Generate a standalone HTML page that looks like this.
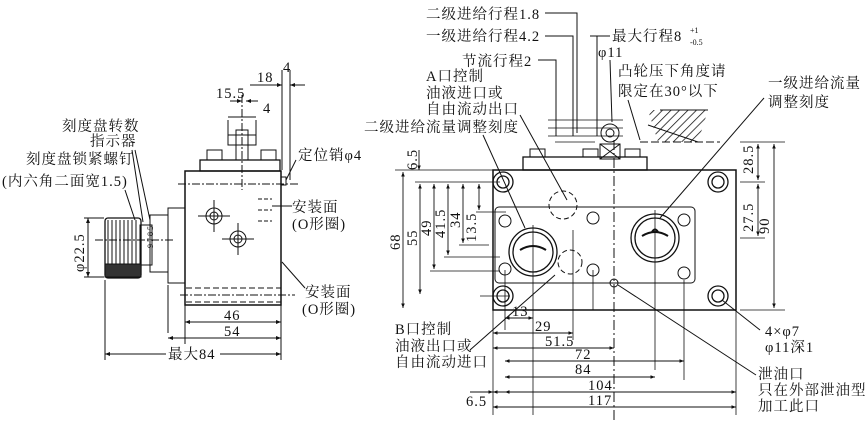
<!DOCTYPE html>
<html><head><meta charset="utf-8"><style>
html,body{margin:0;padding:0;background:#fff}
svg{display:block}
text{font-family:"Liberation Serif","Noto Serif CJK SC","Noto Sans CJK SC",serif;font-size:14.5px;letter-spacing:1px;fill:#111;stroke:none}
</style></head><body>
<svg width="865" height="424" viewBox="0 0 865 424" xmlns="http://www.w3.org/2000/svg" stroke="#111" fill="none" stroke-width="1">
<defs>
<marker id="a" viewBox="0 0 10 10" refX="10" refY="5" markerWidth="7" markerHeight="5" orient="auto-start-reverse"><path d="M0,1L10,5L0,9z" fill="#111" stroke="none"/></marker>
<pattern id="h" width="6" height="6" patternUnits="userSpaceOnUse" patternTransform="rotate(45)"><line x1="0" y1="0" x2="0" y2="6" stroke="#111" stroke-width="1.5"/></pattern>
</defs>
<!-- LEFT VIEW -->
<rect x="185" y="171" width="96" height="134" stroke-width="1.5"/>
<rect x="200" y="160" width="80" height="11" stroke-width="1.3"/>
<rect x="207" y="150" width="15" height="10"/><rect x="261" y="150" width="15" height="10"/>
<rect x="236" y="130" width="12" height="30"/><rect x="228" y="135" width="28" height="10"/>
<line x1="242" y1="95" x2="242" y2="190" stroke-dasharray="8,2,2,2"/>
<line x1="178" y1="184" x2="300" y2="184" stroke-dasharray="8,2,2,2"/>
<rect x="281" y="177" width="5" height="8"/>
<circle cx="214" cy="216" r="8"/><circle cx="214" cy="216" r="4"/>
<circle cx="238" cy="239" r="8"/><circle cx="238" cy="239" r="4"/>
<line x1="198" y1="216" x2="230" y2="216"/><line x1="214" y1="200" x2="214" y2="232"/>
<line x1="222" y1="239" x2="254" y2="239"/><line x1="238" y1="223" x2="238" y2="255"/>
<path d="M258,199h14M258,210h14M258,221h14" stroke-dasharray="4,2"/>
<path d="M186,288h95M186,302h95" stroke-dasharray="6,3"/>
<line x1="180" y1="295" x2="295" y2="295" stroke-dasharray="8,2,2,2"/>
<rect x="168" y="208" width="17" height="75"/>
<rect x="150" y="215" width="18" height="57"/>
<rect x="140" y="225" width="12" height="40"/>
<rect x="105" y="218" width="36" height="60" rx="3" stroke-width="1.3"/>
<path d="M108,220v56M112,220v56M116,220v56M120,220v56M124,220v56M128,220v56M132,220v56M136,220v56"/>
<rect x="105" y="264" width="36" height="13" fill="#333"/>
<line x1="95" y1="240" x2="175" y2="240" stroke-dasharray="8,2,2,2"/>
<text x="145" y="250" style="font-size:8px;letter-spacing:0" transform="rotate(-90 148 245)">9 7 8 5</text>
<line x1="88" y1="218" x2="88" y2="277" marker-start="url(#a)" marker-end="url(#a)"/>
<path d="M84,218h20M84,277h20"/>
<text transform="translate(84 272) rotate(-90)">φ22.5</text>
<path d="M105,280v80M185,305v40M281,305v55M168,285v48"/>
<line x1="185" y1="322" x2="281" y2="322" marker-start="url(#a)" marker-end="url(#a)"/>
<line x1="168" y1="338" x2="281" y2="338" marker-start="url(#a)" marker-end="url(#a)"/>
<line x1="105" y1="354" x2="281" y2="354" marker-start="url(#a)" marker-end="url(#a)"/>
<text x="224" y="320">46</text><text x="224" y="336">54</text>
<rect x="166" y="344" width="54" height="16" fill="#fff" stroke="none"/>
<text x="168" y="359">最大84</text>
<path d="M228,120v15M256,120v25M282,70v100M290,70v110"/>
<line x1="230" y1="101" x2="242" y2="101" marker-end="url(#a)"/><line x1="258" y1="101" x2="246" y2="101" marker-end="url(#a)"/>
<line x1="228" y1="117" x2="256" y2="117"/>
<line x1="250" y1="85" x2="282" y2="85" marker-end="url(#a)"/><line x1="305" y1="85" x2="290" y2="85" marker-end="url(#a)"/>
<text x="216" y="98">15.5</text><text x="263" y="113">4</text><text x="257" y="82">18</text><text x="283" y="72">4</text>
<text x="62" y="131">刻度盘转数</text><text x="90" y="146">指示器</text>
<text x="26" y="164">刻度盘锁紧螺钉</text><text x="2" y="186">(内六角二面宽1.5)</text>
<path d="M135,150L150,220M132,150L143,222M125,190L135,220"/>
<text x="298" y="160">定位销φ4</text><line x1="296" y1="160" x2="286" y2="180"/>
<text x="292" y="212">安装面</text><text x="292" y="229">(O形圈)</text>
<line x1="272" y1="206" x2="292" y2="206"/>
<text x="305" y="297">安装面</text><text x="302" y="314">(O形圈)</text>
<line x1="282" y1="262" x2="305" y2="288"/>
<!-- RIGHT VIEW -->
<rect x="493" y="170" width="243" height="140" stroke-width="1.5"/>
<rect x="495" y="207" width="200" height="76" rx="4"/>
<rect x="523" y="157" width="124" height="13" stroke-width="1.3"/>
<rect x="530" y="149" width="15" height="8"/><rect x="583" y="149" width="15" height="8"/><rect x="625" y="149" width="15" height="8"/>
<circle cx="610" cy="133" r="9"/><circle cx="610" cy="133" r="4"/>
<rect x="600" y="144" width="20" height="15"/><path d="M600,144l20,15M620,144l-20,15"/>
<path d="M648,110h60l-10,32h-40z" fill="url(#h)" stroke="none"/><path d="M660,110h48M648,125l50,17"/>
<path d="M548,120h75M548,128h75M548,136h75M555,142h40" stroke-width="0.8"/>
<line x1="640" y1="142" x2="720" y2="142" stroke-dasharray="8,3"/>
<g stroke-width="1.3">
<circle cx="503" cy="182" r="10"/><circle cx="503" cy="182" r="6"/>
<circle cx="718" cy="182" r="10"/><circle cx="718" cy="182" r="6"/>
<circle cx="503" cy="296" r="10"/><circle cx="503" cy="296" r="6"/>
<circle cx="718" cy="296" r="10"/><circle cx="718" cy="296" r="6"/>
<circle cx="533" cy="252" r="24"/><circle cx="533" cy="252" r="20"/>
<circle cx="655" cy="238" r="24"/><circle cx="655" cy="238" r="20"/>
</g>
<path d="M520,250q13,-8 26,0M652,232q3,-5 6,0M642,236q13,-8 26,0" stroke-width="2"/>
<circle cx="505" cy="221" r="6"/><circle cx="505" cy="269" r="6"/><circle cx="593" cy="218" r="6"/><circle cx="593" cy="270" r="6"/>
<circle cx="684" cy="220" r="6"/><circle cx="684" cy="273" r="6"/><circle cx="614" cy="283" r="4"/>
<circle cx="563" cy="205" r="14" stroke-dasharray="5,3"/><circle cx="570" cy="262" r="12" stroke-dasharray="5,3"/>
<line x1="614" y1="140" x2="614" y2="420" stroke-dasharray="10,3,2,3"/>
<g stroke-width="0.8">
<path d="M533,225v190M655,210v160M505,270v60M573,230v110M593,270v40M684,280v100M736,310v105M493,310v105"/>
<path d="M395,170h98M415,182h85M430,271h70M444,257h56M459,245h30M476,212h30M480,296h30M740,142h45M740,182h25M740,238h25M740,310h45"/>
</g>
<g stroke-width="0.9">
<line x1="403" y1="172" x2="403" y2="308" marker-start="url(#a)" marker-end="url(#a)"/>
<line x1="420" y1="184" x2="420" y2="294" marker-start="url(#a)" marker-end="url(#a)"/>
<line x1="434" y1="184" x2="434" y2="269" marker-start="url(#a)" marker-end="url(#a)"/>
<line x1="448" y1="184" x2="448" y2="255" marker-start="url(#a)" marker-end="url(#a)"/>
<line x1="463" y1="184" x2="463" y2="243" marker-start="url(#a)" marker-end="url(#a)"/>
<line x1="479" y1="184" x2="479" y2="210" marker-start="url(#a)" marker-end="url(#a)"/>
<line x1="419" y1="150" x2="419" y2="170" marker-end="url(#a)"/>
<line x1="758" y1="144" x2="758" y2="180" marker-start="url(#a)" marker-end="url(#a)"/>
<line x1="758" y1="184" x2="758" y2="236" marker-start="url(#a)" marker-end="url(#a)"/>
<line x1="774" y1="144" x2="774" y2="308" marker-start="url(#a)" marker-end="url(#a)"/>
<line x1="505" y1="318" x2="533" y2="318" marker-start="url(#a)" marker-end="url(#a)"/>
<line x1="493" y1="333" x2="573" y2="333" marker-start="url(#a)" marker-end="url(#a)"/>
<line x1="493" y1="348" x2="614" y2="348" marker-start="url(#a)" marker-end="url(#a)"/>
<line x1="505" y1="361" x2="684" y2="361" marker-start="url(#a)" marker-end="url(#a)"/>
<line x1="505" y1="377" x2="655" y2="377" marker-start="url(#a)" marker-end="url(#a)"/>
<line x1="493" y1="392" x2="736" y2="392" marker-start="url(#a)" marker-end="url(#a)"/>
<line x1="493" y1="407" x2="736" y2="407" marker-start="url(#a)" marker-end="url(#a)"/>
<line x1="470" y1="392" x2="493" y2="392" marker-end="url(#a)"/><line x1="530" y1="392" x2="505" y2="392" marker-end="url(#a)"/>
</g>
<g style="font-size:13px">
<text transform="translate(400 250) rotate(-90)">68</text><text transform="translate(417 246) rotate(-90)">55</text>
<text transform="translate(431 236) rotate(-90)">49</text><text transform="translate(445 238) rotate(-90)">41.5</text>
<text transform="translate(460 228) rotate(-90)">34</text><text transform="translate(476 242) rotate(-90)">13.5</text>
<text transform="translate(417 170) rotate(-90)">6.5</text>
<text transform="translate(753 174) rotate(-90)">28.5</text><text transform="translate(753 232) rotate(-90)">27.5</text>
<text transform="translate(769 234) rotate(-90)">90</text>
</g>
<text x="512" y="316">13</text><text x="535" y="331">29</text><text x="545" y="346">51.5</text>
<text x="575" y="359">72</text><text x="575" y="374">84</text><text x="588" y="390">104</text><text x="588" y="405">117</text>
<text x="466" y="406">6.5</text>
<text x="426" y="19">二级进给行程1.8</text><text x="426" y="41">一级进给行程4.2</text>
<text x="462" y="66">节流行程2</text>
<path d="M545,13h32v120M545,36h28v100M538,60h18v76M590,36h7v100"/>
<text x="612" y="41">最大行程8</text><text x="690" y="33" style="font-size:8px;letter-spacing:0">+1</text><text x="690" y="45" style="font-size:8px;letter-spacing:0">-0.5</text>
<line x1="597" y1="36" x2="610" y2="36"/>
<text x="598" y="57">φ11</text><line x1="610" y1="60" x2="612" y2="122"/>
<text x="618" y="76">凸轮压下角度请</text><text x="618" y="96">限定在30°以下</text>
<line x1="628" y1="100" x2="640" y2="140"/>
<text x="768" y="88">一级进给流量</text><text x="768" y="107">调整刻度</text>
<line x1="764" y1="98" x2="660" y2="218"/>
<text x="426" y="81">A口控制</text><text x="426" y="98">油液进口或</text><text x="426" y="114">自由流动出口</text>
<text x="364" y="132">二级进给流量调整刻度</text>
<path d="M520,115L567,200M483,135L525,228"/>
<text x="395" y="334">B口控制</text><text x="395" y="351">油液出口或</text><text x="395" y="367">自由流动进口</text>
<line x1="470" y1="350" x2="555" y2="275"/>
<text x="765" y="336">4×φ7</text><text x="765" y="352">φ11深1</text>
<line x1="760" y1="330" x2="722" y2="300"/>
<text x="758" y="379">泄油口</text><text x="758" y="395">只在外部泄油型</text><text x="758" y="411">加工此口</text>
<line x1="756" y1="375" x2="618" y2="285"/>
</svg>
</body></html>
